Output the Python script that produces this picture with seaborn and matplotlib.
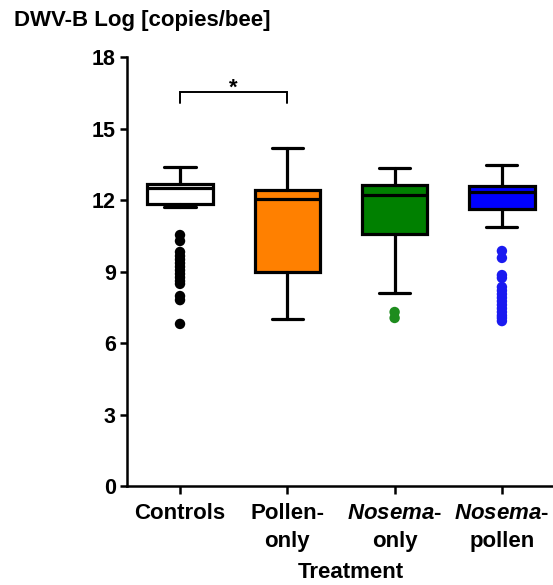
import matplotlib
matplotlib.use("Agg")
import matplotlib.pyplot as plt
import seaborn as sns
import pandas as pd

# ---- data ----
categories = ["Controls", "Pollen-only", "Nosema-only", "Nosema-pollen"]
tick_labels = ["Controls", "Pollen-\nonly", "$Nosema$-\nonly", "$Nosema$-\npollen"]
box_colors = ["#FFFFFF", "#FF8000", "#008000", "#0000FF"]

whisker_low = [11.72, 7.00, 8.10, 10.87]
q1 = [11.83, 8.99, 10.57, 11.62]
median = [12.50, 12.04, 12.20, 12.34]
q3 = [12.67, 12.42, 12.63, 12.59]
whisker_high = [13.39, 14.20, 13.35, 13.47]

outliers_controls = [10.53, 10.28, 9.82, 9.65, 9.50, 9.35, 9.20, 9.05, 8.90,
                     8.75, 8.60, 8.48, 7.97, 7.80, 6.80]
outliers_pollen = []
outliers_nosema = [7.30, 7.05]
outliers_nosema_pollen = [9.86, 9.57, 8.85, 8.73, 8.35, 8.20, 8.05, 7.90, 7.75,
                          7.60, 7.45, 7.30, 7.15, 7.05, 6.92]

sig_pair = (0, 1)
sig_y = 16.55
sig_drop = 16.07
sig_text = "*"

# ---- style ----
sns.set_style("ticks")
plt.rcParams["font.family"] = ["Liberation Sans", "DejaVu Sans"]
plt.rcParams["font.weight"] = "bold"
plt.rcParams["text.color"] = "black"
plt.rcParams["axes.labelcolor"] = "black"
plt.rcParams["xtick.color"] = "black"
plt.rcParams["ytick.color"] = "black"
plt.rcParams["axes.edgecolor"] = "black"
plt.rcParams["mathtext.fontset"] = "custom"
plt.rcParams["mathtext.it"] = "Liberation Sans:italic:bold"
plt.rcParams["mathtext.rm"] = "Liberation Sans:bold"
plt.rcParams["mathtext.bf"] = "Liberation Sans:bold"

W, H = 553, 585
fig = plt.figure(figsize=(W / 100, H / 100), dpi=100)
ax = fig.add_axes([127 / W, 1 - 486 / H, (553 - 127) / W, (486 - 57) / H])

# outliers
out_lists = [outliers_controls, outliers_pollen, outliers_nosema, outliers_nosema_pollen]
rows = []
for cat, vals in zip(categories, out_lists):
    for v in vals:
        rows.append({"group": cat, "value": v})
df_out = pd.DataFrame(rows)
sns.stripplot(data=df_out, x="group", y="value", hue="group", order=categories,
              hue_order=categories,
              palette={"Controls": "black", "Pollen-only": "#FF8000",
                       "Nosema-only": "#1E8C1E", "Nosema-pollen": "#1A1AF0"},
              jitter=False, size=7.5, linewidth=0, legend=False, ax=ax, zorder=3)

# boxes
stats = []
for i in range(len(categories)):
    stats.append({"whislo": whisker_low[i], "q1": q1[i], "med": median[i],
                  "q3": q3[i], "whishi": whisker_high[i], "fliers": []})
lw = 2.3
bp = ax.bxp(stats, positions=range(len(categories)), widths=0.61, capwidths=0.29,
            patch_artist=True, showfliers=False, manage_ticks=False,
            boxprops=dict(linewidth=lw, edgecolor="black"),
            medianprops=dict(color="black", linewidth=lw),
            whiskerprops=dict(color="black", linewidth=lw),
            capprops=dict(color="black", linewidth=lw))
for patch, c in zip(bp["boxes"], box_colors):
    patch.set_facecolor(c)
    patch.set_zorder(2)

# significance bracket
x0, x1 = sig_pair
ax.plot([x0, x0, x1, x1], [sig_drop, sig_y, sig_y, sig_drop], color="black",
        linewidth=1.4, solid_joinstyle="miter")
ax.text((x0 + x1) / 2, sig_y - 0.1, sig_text, ha="center", va="baseline",
        fontsize=16, fontweight="bold", color="black")

# axes
ax.set_xlim(-0.494, 3.476)
ax.set_ylim(0, 18)
ax.set_yticks([0, 3, 6, 9, 12, 15, 18])
ax.set_xticks(range(len(categories)))
ax.set_xticklabels(tick_labels, fontsize=16, fontweight="bold", linespacing=1.45)
ax.tick_params(axis="y", labelsize=15.5, width=1.8, length=5, pad=3, direction="out")
ax.tick_params(axis="x", width=1.8, length=6, pad=6, direction="out")
for lab in ax.get_yticklabels():
    lab.set_fontweight("bold")
sns.despine(ax=ax)
ax.spines["left"].set_linewidth(1.8)
ax.spines["bottom"].set_linewidth(1.8)
ax.set_ylabel("")
ax.set_xlabel("")
fig.text(351 / W, 1.5 / H, "Treatment", ha="center", va="bottom",
         fontsize=16, fontweight="bold", color="black")

fig.text(14 / W, 1 - 26 / H, "DWV-B Log [copies/bee]", ha="left", va="baseline",
         fontsize=16, fontweight="bold", color="black")

fig.savefig("out.png", dpi=100)
